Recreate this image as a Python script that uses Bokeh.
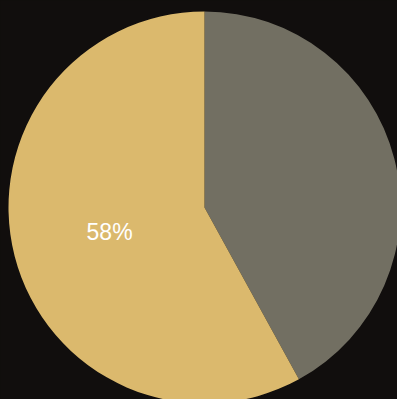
import math
from bokeh.plotting import figure
from bokeh.models import Range1d, ColumnDataSource
from bokeh.core.properties import value
from bokeh.embed import file_html
from bokeh.resources import INLINE

# data
categories = ["Other", "Main"]
values = [42, 58]
colors = ["#726f62", "#dbb96d"]
show_label = [False, True]

BG = "#110e0d"
W, H = 397, 399
cx, cy = 204, 207  # pie centre in figure pixels (from left, from top)
R = 196

p = figure(width=W, height=H, output_backend="svg", toolbar_location=None,
           x_range=Range1d(-cx, W - cx), y_range=Range1d(-(H - cy), cy),
           min_border=0, background_fill_color=BG, border_fill_color=BG,
           outline_line_color=None)
p.axis.visible = False
p.grid.visible = False

total = sum(values)
starts, ends, lx, ly, ltext = [], [], [], [], []
acc = 0.0
for v, lab in zip(values, show_label):
    a0 = math.pi / 2 - (acc + v) / total * 2 * math.pi
    a1 = math.pi / 2 - acc / total * 2 * math.pi
    starts.append(a0)
    ends.append(a1)
    mid = (a0 + a1) / 2
    if lab:
        lx.append(0.5 * R * math.cos(mid))
        ly.append(0.5 * R * math.sin(mid))
        ltext.append(f"{round(v / total * 100)}%")
    acc += v

src = ColumnDataSource(dict(start=starts, end=ends, color=colors))
p.wedge(x=0, y=0, radius=R, start_angle="start", end_angle="end",
        fill_color="color", line_color=None, source=src)

p.text(x=lx, y=ly, text=ltext, text_color="#ffffff",
       text_font=value("Liberation Sans"), text_font_size="23px",
       text_align="center", text_baseline="middle")

html = file_html(p, INLINE)
head, sep, tail = html.rpartition("</body>")
html = head + "<style>html,body{background:" + BG + ";}</style>" + sep + tail
open("out.html", "w").write(html)
